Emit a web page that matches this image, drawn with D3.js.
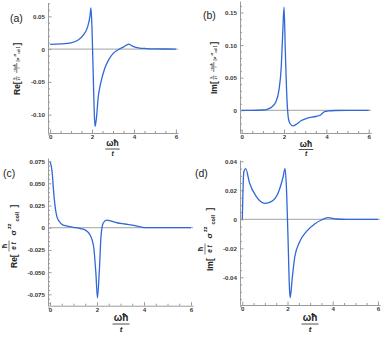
<!DOCTYPE html>
<html>
<head>
<meta charset="utf-8">
<script src="https://cdn.jsdelivr.net/npm/d3@7"></script>
<style>
  body { margin: 0; background: #fff; }
  svg { display: block; }
  text { font-family: "Liberation Sans", Arial, sans-serif; }
</style>
</head>
<body>
<div id="chart"></div>
<script>
// (a) Re part
var xA = [0, 0.5, 1.0, 1.3, 1.6, 1.8, 1.9, 1.95, 2.0, 2.05, 2.1, 2.14, 2.2, 2.3, 2.4, 2.6, 2.8, 3.0, 3.3, 3.5, 3.75, 3.9, 4.2, 4.6, 5.0, 5.5, 6.0];
var reA = [0.0071, 0.0078, 0.0095, 0.013, 0.022, 0.035, 0.05, 0.063, 0.03, -0.03, -0.09, -0.118, -0.108, -0.072, -0.054, -0.03, -0.016, -0.007, 0, 0.003, 0.0075, 0.005, 0.002, 0.0008, 0.0003, 0.0001, 0];
// (b) Im part
var xB = [0, 0.5, 1.0, 1.2, 1.4, 1.6, 1.76, 1.87, 1.94, 2.0, 2.06, 2.14, 2.22, 2.3, 2.42, 2.6, 2.8, 3.1, 3.5, 3.7, 3.8, 3.92, 4.1, 4.4, 5.0, 6.0];
var imB = [0, 0, 0.0005, 0.0015, 0.0045, 0.012, 0.031, 0.067, 0.12, 0.158, 0.092, 0.016, -0.015, -0.021, -0.024, -0.021, -0.016, -0.012, -0.0095, -0.0075, -0.005, -0.002, -0.001, -0.0003, 0, 0];
// (c) Re sigma
var xC = [0, 0.05, 0.1, 0.15, 0.2, 0.25, 0.3, 0.4, 0.5, 0.7, 1.0, 1.3, 1.5, 1.7, 1.85, 1.95, 2.02, 2.1, 2.17, 2.26, 2.4, 2.6, 2.85, 3.2, 3.5, 3.8, 4.0, 4.5, 5.0, 6.0];
var reC = [0.074, 0.07, 0.06, 0.042, 0.028, 0.018, 0.012, 0.007, 0.004, 0.002, 0.0005, -0.001, -0.0026, -0.008, -0.02, -0.05, -0.079, -0.048, -0.01, 0.005, 0.0086, 0.0075, 0.0056, 0.0042, 0.003, 0.0012, 0.0002, 0, 0, 0];
// (d) Im sigma
var xD = [0, 0.03, 0.07, 0.15, 0.32, 0.62, 1.0, 1.28, 1.58, 1.8, 1.89, 1.95, 2.02, 2.09, 2.12, 2.2, 2.32, 2.54, 2.83, 3.2, 3.5, 3.79, 4.16, 4.6, 5.0, 6.0];
var imD = [0, 0.02, 0.033, 0.035, 0.025, 0.0156, 0.011, 0.0122, 0.018, 0.029, 0.035, 0.0225, -0.012, -0.049, -0.054, -0.042, -0.026, -0.0154, -0.0085, -0.0032, -0.0005, 0.0011, 0.0002, 0, 0, 0];

// tick labels
var xTicks = [0, 2, 4, 6];
var yTicksA = [0.05, 0, -0.05, -0.10], yLabA = ["0.05", "0", "-0.05", "-0.10"];
var yTicksB = [0.15, 0.10, 0.05, 0], yLabB = ["0.15", "0.10", "0.05", "0"];
var yTicksC = [0.075, 0.05, 0.025, 0, -0.025, -0.05, -0.075], yLabC = ["0.075", "0.050", "0.025", "0", "-0.025", "-0.050", "-0.075"];
var yTicksD = [0.04, 0.02, 0, -0.02, -0.04], yLabD = ["0.04", "0.02", "0", "-0.02", "-0.04"];

var svg = d3.select("#chart").append("svg")
    .attr("width", 386)
    .attr("height", 339);

var blue = "#3068d8";

function steps(a, b, s) {
    var out = [];
    for (var i = Math.round(a / s); i * s <= b + 1e-9; i++) out.push(+(i * s).toFixed(4));
    return out;
}

function panel(o) {
    var x = d3.scaleLinear().domain(o.xDom).range(o.xRange);
    var y = d3.scaleLinear().domain(o.yDom).range(o.yRange);
    var g = svg.append("g");

    // zero line
    g.append("line")
        .attr("x1", o.xRange[0]).attr("x2", o.xRange[1])
        .attr("y1", y(0)).attr("y2", y(0))
        .attr("stroke", "#b4b4b4").attr("stroke-width", 1.2);

    var minorY = steps(o.yDom[0], o.yDom[1], o.yMinor).filter(v => o.yTicks.every(t => Math.abs(t - v) > 1e-6));
    var minorX = steps(0, 6, 0.5).filter(v => xTicks.indexOf(v) < 0);

    g.append("g")
        .attr("transform", "translate(" + o.xRange[0] + ",0)")
        .call(d3.axisLeft(y).tickValues(o.yTicks).tickFormat((d, i) => o.yLabels[i]).tickSizeInner(-3.5).tickSizeOuter(0).tickPadding(3));
    g.append("g")
        .attr("transform", "translate(" + o.xRange[0] + ",0)")
        .call(d3.axisLeft(y).tickValues(minorY).tickFormat("").tickSizeInner(-2).tickSizeOuter(0))
        .select(".domain").remove();

    g.append("g")
        .attr("transform", "translate(0," + o.yRange[0] + ")")
        .call(d3.axisBottom(x).tickValues(xTicks).tickFormat(d3.format("d")).tickSizeInner(-3.5).tickSizeOuter(0).tickPadding(2));
    g.append("g")
        .attr("transform", "translate(0," + o.yRange[0] + ")")
        .call(d3.axisBottom(x).tickValues(minorX).tickFormat("").tickSizeInner(-2).tickSizeOuter(0))
        .select(".domain").remove();

    g.selectAll(".domain").attr("stroke", "#9a9a9a");
    g.selectAll(".tick line").attr("stroke", "#9a9a9a");
    g.selectAll(".tick text").attr("font-size", 6.2).attr("font-weight", "bold").attr("fill", "#3a3a3a")
        .attr("font-family", "'Liberation Sans', Arial, sans-serif");

    var pts = o.xs.map((d, i) => [d, o.ys[i]]);
    var drawLine = d3.line()
        .x(d => x(d[0]))
        .y(d => y(d[1]))
        .curve(d3.curveMonotoneX);
    g.append("path")
        .attr("d", drawLine(pts))
        .attr("fill", "none")
        .attr("stroke", blue)
        .attr("stroke-width", 1.3);

    // x label  (omega hbar / t)
    var xl = g.append("g").attr("transform", "translate(" + o.xLab[0] + "," + o.xLab[1] + ")");
    var fs = o.xLab[2];
    xl.append("text").attr("text-anchor", "middle").attr("y", -fs * 0.35)
        .attr("font-size", fs).attr("font-weight", "bold").attr("fill", "#222").text("ωħ");
    xl.append("line").attr("x1", -fs * 0.85).attr("x2", fs * 0.85).attr("y1", 0).attr("y2", 0)
        .attr("stroke", "#222").attr("stroke-width", 0.8);
    xl.append("text").attr("text-anchor", "middle").attr("y", fs * 0.8)
        .attr("font-size", fs * 0.8).attr("font-weight", "bold").attr("font-style", "italic").attr("fill", "#222").text("t");

    // panel letter
    svg.append("text").attr("x", o.letter[0]).attr("y", o.letter[1])
        .attr("font-size", 10.5).attr("fill", "#222").text(o.letter[2]);

    // y label
    var yl = svg.append("g").attr("transform", "translate(" + o.yLab[0] + "," + o.yLab[1] + ") rotate(-90)");
    if (o.yLab[3] === "long") longLabel(yl, o.yLab[2]);
    else shortLabel(yl, o.yLab[2]);
}

function t(g, x, y, s, size, opts) {
    var e = g.append("text").attr("x", x).attr("y", y).attr("font-size", size)
        .attr("font-weight", "bold").attr("fill", "#222").text(s);
    if (opts && opts.anchor) e.attr("text-anchor", opts.anchor);
    if (opts && opts.italic) e.attr("font-style", "italic");
    return e;
}
function bar(g, x1, x2, y) {
    g.append("line").attr("x1", x1).attr("x2", x2).attr("y1", y).attr("y2", y)
        .attr("stroke", "#222").attr("stroke-width", 0.6);
}

function longLabel(g, part) {
    t(g, -26, 0, part + "[", 8.5);
    // hbar / (e t)
    t(g, -9.5, -4.2, "ħ", 3.4, {anchor: "middle"});
    bar(g, -11.5, -7.5, -3.2);
    t(g, -9.5, 0, "e t", 3, {anchor: "middle", italic: true});
    // -i omega hbar / t
    t(g, 1, -4.2, "−iωħ", 3.4, {anchor: "middle"});
    bar(g, -4, 6, -3.2);
    t(g, 1, 0, "t", 3, {anchor: "middle", italic: true});
    // [sigma^zz coll]
    t(g, 7.5, -1.5, "[σ", 4, {});
    t(g, 12.5, -4, "zz", 2.6, {});
    t(g, 15.5, -0.5, "coll", 2.6, {});
    t(g, 21, -1.5, "]", 4, {});
    t(g, 23.5, 0, "]", 8.5);
}

function shortLabel(g, part) {
    t(g, -34, 0, part + "[", 8.5);
    t(g, -12, -9.6, "ħ", 7.5, {anchor: "middle"});
    bar(g, -17.5, -6.5, -8);
    t(g, -12, -1.5, "e t", 6.5, {anchor: "middle", italic: true});
    t(g, -1.5, -1.5, "σ", 8);
    t(g, 5, -6.2, "zz", 5.5);
    t(g, 12.5, 1.8, "coll", 5.5);
    t(g, 26.5, 0, "]", 8.5);
}

panel({xs: xA, ys: reA, xDom: [-0.1, 6.1], xRange: [48, 178], yDom: [-0.128, 0.0703], yRange: [133, 3],
    yTicks: yTicksA, yLabels: yLabA, yMinor: 0.01, xLab: [112.5, 149, 8.5], letter: [10, 22, "(a)"], yLab: [20, 69, "Re", "long"]});
panel({xs: xB, ys: imB, xDom: [-0.08, 6.108], xRange: [240, 371], yDom: [-0.0348, 0.1676], yRange: [133, 1],
    yTicks: yTicksB, yLabels: yLabB, yMinor: 0.01, xLab: [306, 149.5, 8.5], letter: [203, 19, "(b)"], yLab: [217, 68, "Im", "long"]});
panel({xs: xC, ys: reC, xDom: [-0.085, 6.085], xRange: [48, 193], yDom: [-0.0878, 0.0785], yRange: [305.7, 158],
    yTicks: yTicksC, yLabels: yLabC, yMinor: 0.005, xLab: [121, 324, 10], letter: [3, 177, "(c)"], yLab: [17, 234, "Re", "short"]});
panel({xs: xD, ys: imD, xDom: [-0.102, 6.09], xRange: [240, 380], yDom: [-0.0591, 0.0409], yRange: [305, 160],
    yTicks: yTicksD, yLabels: yLabD, yMinor: 0.005, xLab: [310, 324, 10], letter: [195, 177, "(d)"], yLab: [213, 237, "Im", "short"]});
</script>
</body>
</html>
